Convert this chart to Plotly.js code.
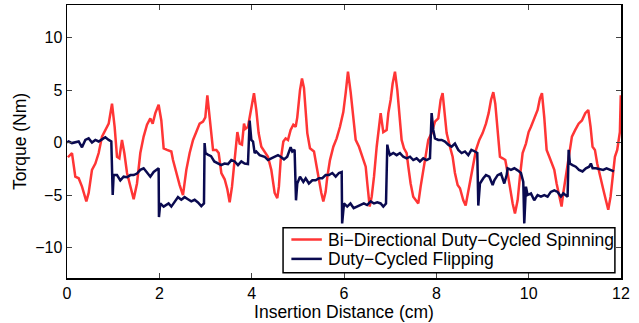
<!DOCTYPE html>
<html>
<head>
<meta charset="utf-8">
<script src="https://cdn.plot.ly/plotly-3.0.1.min.js"></script>
<style>html,body{margin:0;padding:0;background:#fff;}#chart{width:639px;height:323px;}</style>
</head>
<body>
<div id="chart"></div>
<script>
// Bi-Directional Duty-Cycled Spinning (red)
const spinX = [0.02,0.108,0.18,0.253,0.325,0.419,0.469,0.541,0.614,0.686,0.758,0.83,0.903,0.975,1.032,1.083,1.134,1.191,1.242,1.3,1.372,1.444,1.516,1.588,1.66,1.733,1.805,1.856,1.913,1.985,2.043,2.094,2.166,2.26,2.296,2.368,2.44,2.512,2.585,2.657,2.73,2.8,2.873,2.946,2.996,3.04,3.09,3.163,3.235,3.285,3.343,3.415,3.473,3.523,3.574,3.632,3.69,3.74,3.79,3.834,3.863,3.92,3.993,4.05,4.1,4.151,4.209,4.28,4.353,4.425,4.498,4.555,4.59,4.628,4.686,4.736,4.787,4.844,4.902,4.953,4.988,5.047,5.09,5.133,5.17,5.205,5.263,5.314,5.35,5.408,5.458,5.509,5.552,5.602,5.639,5.696,5.769,5.841,5.913,5.985,6.036,6.086,6.144,6.202,6.253,6.325,6.397,6.47,6.505,6.556,6.6,6.65,6.708,6.758,6.794,6.851,6.924,6.96,7.01,7.053,7.104,7.155,7.198,7.248,7.299,7.357,7.393,7.443,7.5,7.558,7.609,7.66,7.717,7.775,7.826,7.898,7.97,8.042,8.093,8.136,8.187,8.223,8.295,8.353,8.403,8.461,8.512,8.584,8.635,8.678,8.729,8.787,8.859,8.931,9.003,9.075,9.133,9.184,9.234,9.277,9.328,9.378,9.436,9.494,9.544,9.595,9.653,9.703,9.761,9.811,9.869,9.941,9.999,10.05,10.122,10.194,10.244,10.288,10.338,10.389,10.447,10.504,10.555,10.605,10.663,10.713,10.75,10.822,10.879,10.937,11.009,11.082,11.154,11.226,11.291,11.341,11.384,11.435,11.485,11.543,11.615,11.673,11.724,11.774,11.818,11.868,11.918,11.954,11.976,11.995];
const spinY = [-1.4,-1.0,-3.25,-3.4,-4.2,-5.6,-4.8,-2.6,-2.0,-1.0,0.57,1.2,1.8,3.7,1.5,-1.35,-1.5,0.25,-1.0,-2.9,-4.2,-5.4,-3.9,-1.0,0.57,1.7,2.3,1.8,2.8,3.6,2.1,-0.55,-0.7,-0.85,-1.67,-2.9,-4.05,-5.0,-2.6,-1.0,0.25,1.0,1.8,2.0,2.4,4.5,2.4,-0.7,-0.7,-1.0,-2.9,-3.5,-4.45,-5.7,-4.2,-1.3,1.0,-0.1,-0.2,1.8,1.3,1.5,3.1,4.7,3.1,0.9,-0.4,-0.85,-1.35,-2.6,-4.8,-5.3,-4.2,-1.7,0.1,0.4,0.25,1.2,1.7,1.5,2.4,5.0,6.1,5.2,3.1,0.9,-0.55,-0.7,-0.85,-2.3,-3.6,-4.8,-5.6,-4.7,-3.25,-1.67,-0.4,0.4,1.5,2.9,4.7,6.75,4.8,2.1,0.25,-0.4,-1.35,-2.3,-3.9,-6.1,-5.15,-3.25,-0.4,1.5,2.8,1.0,1.2,2.8,4.05,5.6,6.75,5.0,2.4,0.25,-0.55,-1.0,-2.3,-3.9,-5.15,-5.5,-5.8,-4.2,-2.6,-1.0,0.25,0.9,2.0,2.3,4.05,4.7,2.8,0.9,-0.4,-1.35,-2.9,-4.05,-4.35,-5.5,-6.0,-5.0,-3.9,-2.3,-0.7,0.25,0.9,1.8,2.8,4.05,4.8,3.7,0.9,-1.35,-1.5,-1.67,-2.9,-4.45,-5.8,-6.75,-5.5,-3.25,-1.0,-0.1,1.0,1.5,2.3,3.1,4.2,4.7,2.4,-0.7,-1.35,-2.0,-2.6,-3.9,-5.15,-6.1,-4.8,-2.75,-1.0,0.57,1.2,1.8,2.1,2.8,3.1,1.5,-0.4,-0.7,-2.0,-3.25,-4.45,-5.5,-6.4,-5.15,-3.25,-1.35,-0.7,0.25,1.0,4.5];

// Duty-Cycled Flipping (dark blue)
const flipX = [0,0.036,0.108,0.18,0.253,0.325,0.397,0.469,0.541,0.614,0.686,0.758,0.83,0.903,0.96,0.99,1.01,1.083,1.155,1.227,1.3,1.372,1.444,1.516,1.588,1.66,1.733,1.805,1.877,1.949,1.985,1.992,2.02,2.094,2.2,2.26,2.332,2.404,2.476,2.548,2.62,2.692,2.765,2.837,2.909,2.967,2.98,3.0,3.05,3.12,3.19,3.27,3.34,3.41,3.487,3.56,3.632,3.704,3.776,3.848,3.92,3.956,3.993,4.03,4.065,4.1,4.173,4.28,4.353,4.425,4.498,4.57,4.628,4.7,4.77,4.844,4.88,4.93,4.96,4.988,5.047,5.119,5.17,5.24,5.314,5.386,5.458,5.53,5.602,5.674,5.747,5.82,5.89,5.95,5.96,6.0,6.07,6.14,6.21,6.28,6.36,6.43,6.5,6.578,6.65,6.72,6.794,6.851,6.91,6.938,6.96,6.996,7.068,7.14,7.212,7.284,7.357,7.43,7.5,7.573,7.645,7.717,7.79,7.862,7.898,7.934,7.97,8.042,8.115,8.187,8.259,8.331,8.403,8.475,8.548,8.62,8.692,8.76,8.836,8.887,8.909,8.945,9.017,9.075,9.147,9.22,9.256,9.328,9.4,9.472,9.523,9.544,9.616,9.69,9.761,9.833,9.883,9.905,9.941,9.977,10.05,10.12,10.194,10.266,10.338,10.41,10.48,10.555,10.627,10.7,10.75,10.807,10.843,10.866,10.893,10.95,11.02,11.09,11.166,11.24,11.31,11.348,11.385,11.457,11.54,11.615,11.687,11.76,11.832,11.847];
const flipY = [0,0.1,-0.05,0,0.1,-0.45,0.25,0.4,0,0.25,0.1,0.3,0.5,0.25,0.1,-5.0,-3.1,-3.1,-3.6,-3.25,-3.3,-3.1,-3.1,-2.95,-2.6,-2.45,-2.8,-3.25,-2.8,-2.55,-2.45,-7.1,-5.8,-6.1,-5.8,-6.1,-5.6,-5.2,-5.45,-5.2,-5.4,-5.6,-5.45,-5.7,-6.05,-5.8,-0.05,-1.0,-1.15,-1.3,-1.8,-2.0,-2.15,-2.0,-2.05,-1.67,-1.8,-2.15,-1.8,-2.0,-2.05,2.1,0.25,0.1,-1.0,-0.85,-1.2,-1.35,-1.67,-1.5,-1.35,-1.2,-1.35,-1.6,-1.35,-0.45,-0.85,-0.7,-5.5,-3.9,-3.25,-3.75,-3.4,-3.9,-3.6,-3.6,-3.4,-3.4,-3.1,-3.1,-2.9,-3.25,-2.9,-2.8,-7.7,-5.8,-6.1,-5.8,-6.25,-6.1,-5.95,-5.8,-5.95,-5.6,-5.8,-5.7,-5.8,-6.1,-5.8,-0.2,-0.7,-1.2,-1.0,-1.2,-1.0,-1.35,-1.5,-1.35,-1.67,-1.5,-1.8,-1.5,-1.67,-1.5,2.8,1.2,0.4,0.25,0.25,0.1,-0.2,-0.4,-0.1,-0.7,-1.0,-0.85,-1.2,-0.7,-0.85,-1.0,-6.0,-3.9,-3.4,-3.1,-3.25,-4.05,-3.6,-3.1,-2.95,-3.9,-3.1,-2.45,-2.6,-2.45,-2.65,-2.9,-3.75,-7.7,-4.2,-5.0,-4.85,-5.5,-5.0,-5.15,-5.0,-5.15,-4.7,-4.55,-4.7,-5.15,-4.84,-5.0,-5.15,-0.7,-2.0,-2.15,-2.3,-2.6,-2.75,-2.45,-2.3,-2.0,-2.45,-2.45,-2.5,-2.6,-2.45,-2.6,-2.75,-2.75];

const seriesNames = ["Bi\u2212Directional Duty\u2212Cycled Spinning", "Duty\u2212Cycled Flipping"];
const seriesColors = ["#ff3535", "#0a0a50"];
const xTicks = [0,2,4,6,8,10,12];
const yTicks = [-10,-5,0,5,10];

const font = "Liberation Sans, Arial, Helvetica, sans-serif";
const traces = [
  {x: spinX, y: spinY, type: "scatter", mode: "lines", name: seriesNames[0],
   line: {color: seriesColors[0], width: 2.5}},
  {x: flipX, y: flipY, type: "scatter", mode: "lines", name: seriesNames[1],
   line: {color: seriesColors[1], width: 2.5}}
];
const axisCommon = {
  showgrid: false, zeroline: false, showline: true, linecolor: "#000", linewidth: 1.5,
  mirror: "ticks", ticks: "inside", ticklen: 5, tickcolor: "#444", tickwidth: 1,
  tickfont: {family: font, size: 16, color: "#000"}
};

// MATLAB-style legend box (inside the axes, lower right)
const legBox = {x0: 0.390, x1: 0.989, y0: 0.019, y1: 0.184};
const legRows = [0.141, 0.070];
const shapes = [
  {type: "rect", xref: "paper", yref: "paper", x0: legBox.x0, x1: legBox.x1, y0: legBox.y0, y1: legBox.y1,
   line: {color: "#000", width: 1.5}, fillcolor: "#fff", layer: "above"}
];
const annotations = [];
seriesNames.forEach((nm, i) => {
  shapes.push({type: "line", xref: "paper", yref: "paper", x0: 0.405, x1: 0.460, y0: legRows[i], y1: legRows[i],
    line: {color: seriesColors[i], width: 2.5}, layer: "above"});
  annotations.push({xref: "paper", yref: "paper", x: 0.468, y: legRows[i], xanchor: "left", yanchor: "middle",
    text: nm, showarrow: false, font: {family: font, size: 17.5, color: "#000"}});
});

const layout = {
  width: 639, height: 323,
  margin: {l: 67, r: 18, t: 5, b: 45},
  paper_bgcolor: "#fff", plot_bgcolor: "#fff",
  showlegend: false,
  font: {family: font, size: 16, color: "#000"},
  xaxis: Object.assign({}, axisCommon, {
    range: [0, 12], tickvals: xTicks, ticktext: xTicks.map(String),
    title: {text: "Insertion Distance (cm)", font: {family: font, size: 17.5}, standoff: 1}
  }),
  yaxis: Object.assign({}, axisCommon, {
    range: [-12.9, 13.1], tickvals: yTicks,
    title: {text: "Torque (Nm)", font: {family: font, size: 17.5}, standoff: 4}
  }),
  shapes: shapes,
  annotations: annotations
};
Plotly.newPlot("chart", traces, layout, {staticPlot: true, displayModeBar: false});
</script>
</body>
</html>
